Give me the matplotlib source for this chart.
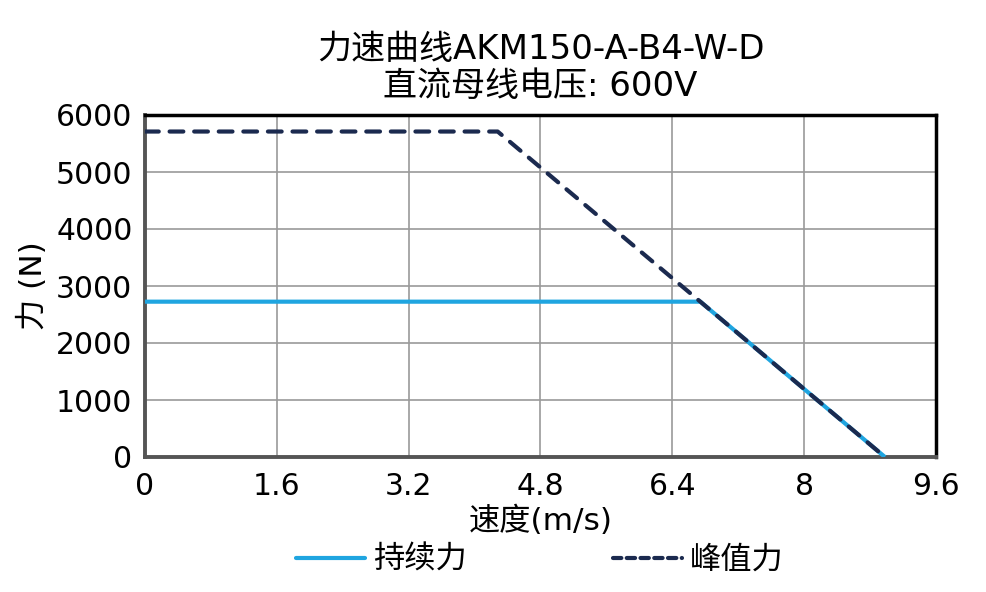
import matplotlib
matplotlib.use("Agg")
import matplotlib.pyplot as plt
from matplotlib.lines import Line2D

plt.rcParams['font.family'] = ['DejaVu Sans', 'Noto Sans CJK SC']

title_text = "力速曲线AKM150-A-B4-W-D\n直流母线电压: 600V"
x_label = "速度(m/s)"
y_label = "力 (N)"
cont_label = "持续力"
peak_label = "峰值力"

x_ticks = [0, 1.6, 3.2, 4.8, 6.4, 8, 9.6]
x_tick_labels = ["0", "1.6", "3.2", "4.8", "6.4", "8", "9.6"]
y_ticks = [0, 1000, 2000, 3000, 4000, 5000, 6000]

cont_speed = [0, 6.74, 8.98]
cont_force = [2725, 2725, 0]
peak_speed = [0, 4.28, 6.74, 8.98]
peak_force = [5710, 5710, 2725, 0]

cont_color = '#1fa5e0'
peak_color = '#1b2a4f'

fig = plt.figure(figsize=(9.87, 5.92), dpi=100)
ax = fig.add_axes([145/987, 1-457/592, (936-145)/987, (457-115)/592])

ax.plot(cont_speed, cont_force, color=cont_color, lw=3, zorder=3, solid_capstyle='butt')
ax.plot(peak_speed, peak_force, color=peak_color, lw=3, zorder=4,
        linestyle=(0, (3.3, 2.6)), dash_capstyle='round')

ax.set_xlim(0, 9.6)
ax.set_ylim(0, 6000)
ax.set_xticks(x_ticks)
ax.set_xticklabels(x_tick_labels)
ax.set_yticks(y_ticks)
ax.tick_params(axis='both', length=0, labelsize=21.5)
ax.tick_params(axis='y', pad=9)
ax.tick_params(axis='x', pad=11)
ax.grid(True, color='#9a9a9a', lw=1.2)
ax.set_axisbelow(True)

for s in ['top', 'right']:
    ax.spines[s].set_color('black')
    ax.spines[s].set_linewidth(2.5)
for s in ['left', 'bottom']:
    ax.spines[s].set_color('#555555')
    ax.spines[s].set_linewidth(2.8)

ax.set_title(title_text, fontsize=24.5, linespacing=1.12, pad=14)
ax.set_xlabel(x_label, fontsize=22.5, labelpad=3)
ax.set_ylabel(y_label, fontsize=22.5, labelpad=6)

handles = [
    Line2D([], [], color=cont_color, lw=3, solid_capstyle='round'),
    Line2D([], [], color=peak_color, lw=3, linestyle=(0, (2.0, 1.3)), dash_capstyle='round'),
]
fig.legend(handles, [cont_label, peak_label], loc='center',
           bbox_to_anchor=(540/987, 1-560/592), ncol=2, frameon=False,
           fontsize=22.5, columnspacing=4.7, handlelength=2.2, handletextpad=0.25)

fig.savefig("out.png", dpi=100)
